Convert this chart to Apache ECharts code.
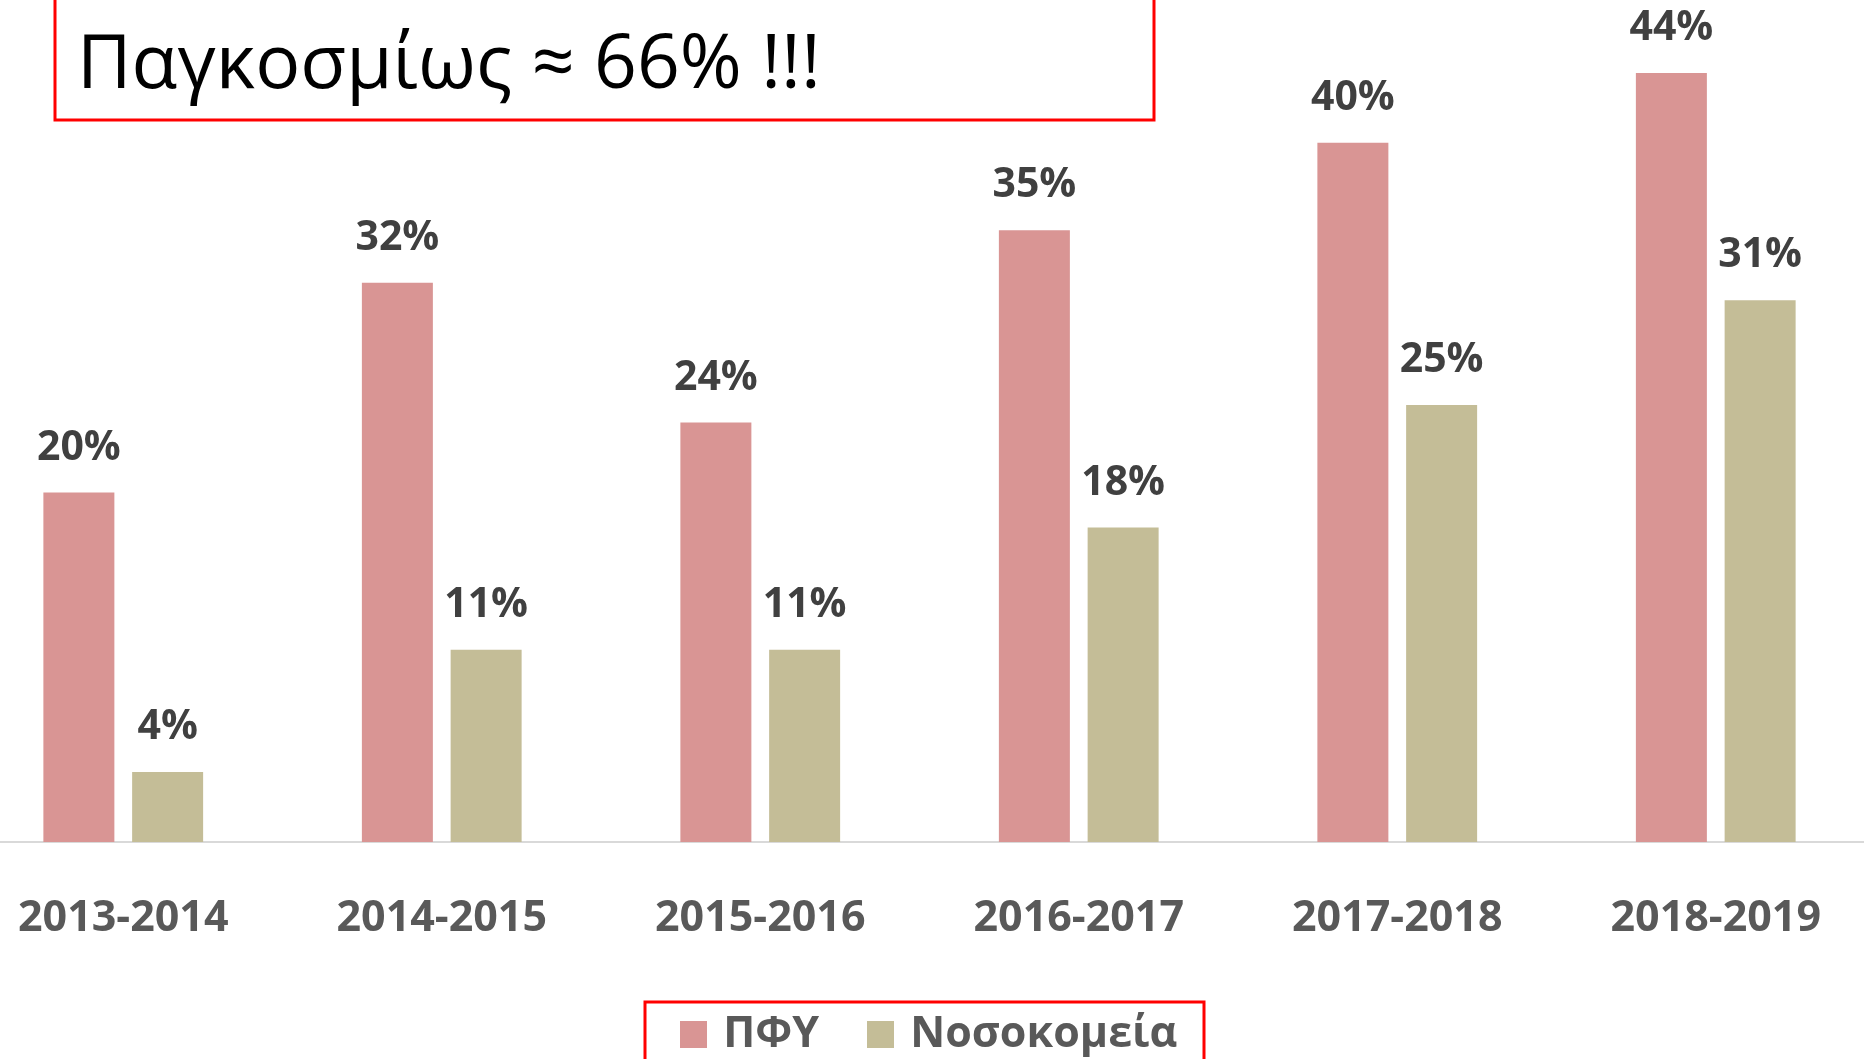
<!DOCTYPE html>
<html>
<head>
<meta charset="utf-8">
<title>ΠΦΥ - Νοσοκομεία</title>
<script src="https://cdn.jsdelivr.net/npm/echarts@6/dist/echarts.min.js"></script>
<style>
  html, body { margin: 0; padding: 0; background: #fff; overflow: hidden; }
  /* the plot starts a bit left of the window edge, like the cropped slide */
  #chart { position: absolute; left: -36px; top: 0; width: 1911px; height: 1059px; }
</style>
</head>
<body>
<div id="chart"></div>
<script>
  // data
  var years = ['2013-2014', '2014-2015', '2015-2016', '2016-2017', '2017-2018', '2018-2019'];
  var pfy = [20, 32, 24, 35, 40, 44];
  var hospitals = [4, 11, 11, 18, 25, 31];
  var seriesNames = ['ΠΦΥ', 'Νοσοκομεία'];
  var headline = 'Παγκοσμίως ≈ 66% !!!';

  var offsetX = 36; // chart div is shifted left by this much

  var chart = echarts.init(document.getElementById('chart'));

  var labelStyle = {
    show: true,
    position: 'top',
    distance: 24,
    formatter: '{c}%',
    fontFamily: 'Open Sans',
    fontWeight: 'bold',
    fontSize: 41,
    color: '#404040'
  };

  chart.setOption({
    animation: false,
    grid: {
      left: 0,
      right: 0,
      top: 3,
      bottom: 217
    },
    legend: {
      left: 675 + offsetX,
      top: 1008,
      icon: 'rect',
      itemWidth: 27,
      itemHeight: 27,
      itemGap: 48,
      formatter: function(name) {
        return ' ' + name;
      },
      textStyle: {
        fontFamily: 'Open Sans',
        fontWeight: 'bold',
        fontSize: 43,
        color: '#595959'
      },
      data: seriesNames
    },
    xAxis: {
      type: 'category',
      data: years,
      axisTick: { show: false },
      axisLine: { lineStyle: { color: '#d9d9d9', width: 2 } },
      axisLabel: {
        margin: 55,
        fontFamily: 'Open Sans',
        fontWeight: 'bold',
        fontSize: 43,
        color: '#595959'
      }
    },
    yAxis: {
      type: 'value',
      min: 0,
      max: 48,
      show: false,
      splitLine: { show: false }
    },
    series: [{
      name: seriesNames[0],
      type: 'bar',
      data: pfy,
      barWidth: 71,
      barGap: '25%',
      itemStyle: { color: '#d99594' },
      label: labelStyle
    },
    {
      name: seriesNames[1],
      type: 'bar',
      data: hospitals,
      barWidth: 71,
      itemStyle: { color: '#c4bd97' },
      label: labelStyle
    }],
    graphic: [{
      type: 'rect',
      shape: { x: 55 + offsetX, y: -10, width: 1099, height: 130 },
      style: { fill: 'none', stroke: '#ff0000', lineWidth: 3 }
    },
    {
      type: 'text',
      left: 77 + offsetX,
      top: 29,
      style: {
        text: headline,
        fontFamily: 'Open Sans',
        fontSize: 75,
        fill: '#000'
      }
    },
    {
      type: 'rect',
      shape: { x: 645 + offsetX, y: 1002, width: 559, height: 80 },
      style: { fill: 'none', stroke: '#ff0000', lineWidth: 3 }
    }]
  });
</script>
</body>
</html>
